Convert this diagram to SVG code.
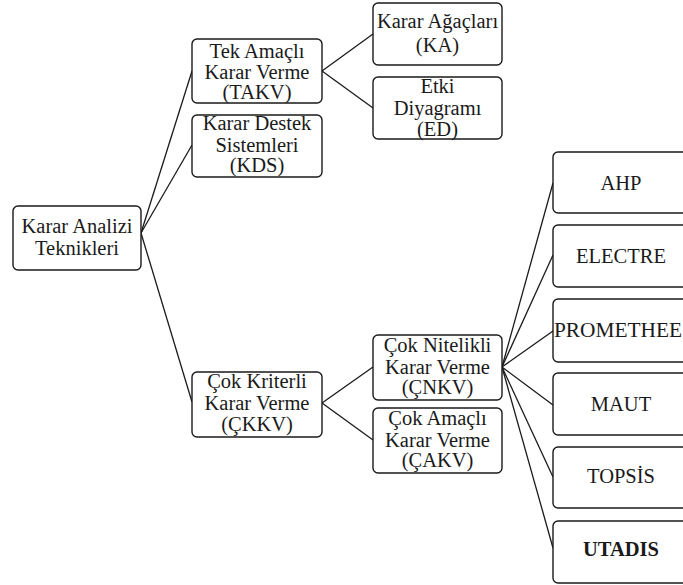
<svg xmlns="http://www.w3.org/2000/svg" width="683" height="585" viewBox="0 0 683 585">
<style>
.box{fill:#fff;stroke:#1a1a1a;stroke-width:1.4}
.t{font-size:20.5px;fill:#1a1a1a;text-anchor:middle}
.b{font-weight:bold}
.c{stroke:#1a1a1a;stroke-width:1.3;fill:none}
</style>
<rect width="683" height="585" fill="#fff"/>
<g id="connectors">
<line class="c" x1="141" y1="233" x2="192" y2="71"/>
<line class="c" x1="141" y1="233" x2="192" y2="145"/>
<line class="c" x1="141" y1="233" x2="192" y2="402"/>
<line class="c" x1="322" y1="71" x2="373" y2="34"/>
<line class="c" x1="322" y1="71" x2="373" y2="108"/>
<line class="c" x1="322" y1="403" x2="373" y2="367"/>
<line class="c" x1="322" y1="403" x2="373" y2="440"/>
<line class="c" x1="502" y1="367" x2="553" y2="183"/>
<line class="c" x1="502" y1="367" x2="553" y2="255"/>
<line class="c" x1="502" y1="367" x2="553" y2="331"/>
<line class="c" x1="502" y1="367" x2="553" y2="405"/>
<line class="c" x1="502" y1="367" x2="553" y2="477"/>
<line class="c" x1="502" y1="367" x2="553" y2="548"/>
</g>
<g font-family="Liberation Serif, Tinos, DejaVu Serif, Times New Roman, serif">
<g id="root">
<rect class="box" x="13" y="206" width="128" height="64" rx="5"/>
<text class="t" x="77" y="233">Karar Analizi</text>
<text class="t" x="77" y="255">Teknikleri</text>
</g>
<g id="takv">
<rect class="box" x="192" y="39" width="130" height="64" rx="5"/>
<text class="t" x="257" y="58">Tek Amaçlı</text>
<text class="t" x="257" y="79">Karar Verme</text>
<text class="t" x="257" y="99">(TAKV)</text>
</g>
<g id="kds">
<rect class="box" x="192" y="115" width="130" height="62" rx="5"/>
<text class="t" x="257" y="130">Karar Destek</text>
<text class="t" x="257" y="152">Sistemleri</text>
<text class="t" x="257" y="172">(KDS)</text>
</g>
<g id="ckkv">
<rect class="box" x="192" y="372" width="130" height="65" rx="5"/>
<text class="t" x="257" y="388">Çok Kriterli</text>
<text class="t" x="257" y="410">Karar Verme</text>
<text class="t" x="257" y="431">(ÇKKV)</text>
</g>
<g id="ka">
<rect class="box" x="373" y="3" width="129" height="62" rx="5"/>
<text class="t" x="437.5" y="28">Karar Ağaçları</text>
<text class="t" x="437.5" y="52">(KA)</text>
</g>
<g id="ed">
<rect class="box" x="373" y="77" width="129" height="62" rx="5"/>
<text class="t" x="437.5" y="93">Etki</text>
<text class="t" x="437.5" y="115">Diyagramı</text>
<text class="t" x="437.5" y="136">(ED)</text>
</g>
<g id="cnkv">
<rect class="box" x="373" y="335" width="129" height="65" rx="5"/>
<text class="t" x="437.5" y="352">Çok Nitelikli</text>
<text class="t" x="437.5" y="374">Karar Verme</text>
<text class="t" x="437.5" y="394">(ÇNKV)</text>
</g>
<g id="cakv">
<rect class="box" x="373" y="408" width="129" height="65" rx="5"/>
<text class="t" x="437.5" y="425">Çok Amaçlı</text>
<text class="t" x="437.5" y="447">Karar Verme</text>
<text class="t" x="437.5" y="467">(ÇAKV)</text>
</g>
<g id="ahp">
<rect class="box" x="553" y="152" width="140" height="61" rx="5"/>
<text class="t" x="621" y="190">AHP</text>
</g>
<g id="electre">
<rect class="box" x="553" y="225" width="140" height="62" rx="5"/>
<text class="t" x="621" y="263">ELECTRE</text>
</g>
<g id="promethee">
<rect class="box" x="553" y="299" width="140" height="63" rx="5"/>
<text class="t" x="618" y="337" textLength="128" lengthAdjust="spacingAndGlyphs">PROMETHEE</text>
</g>
<g id="maut">
<rect class="box" x="553" y="373" width="140" height="62" rx="5"/>
<text class="t" x="621" y="411">MAUT</text>
</g>
<g id="topsis">
<rect class="box" x="553" y="447" width="140" height="61" rx="5"/>
<text class="t" x="621" y="483">TOPSİS</text>
</g>
<g id="utadis">
<rect class="box" x="553" y="521" width="140" height="62" rx="5"/>
<text class="t b" x="621" y="556">UTADIS</text>
</g>
</g>
</svg>
